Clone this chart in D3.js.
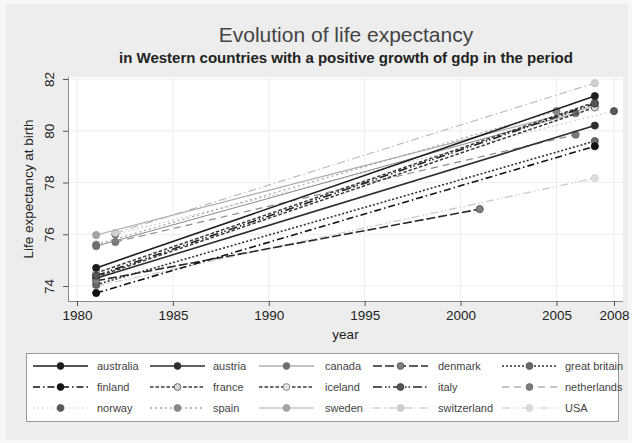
<!DOCTYPE html>
<html>
<head>
<meta charset="utf-8">
<script src="https://cdn.jsdelivr.net/npm/d3@7/dist/d3.min.js"></script>
<style>
  html, body { margin: 0; padding: 0; background: #f7f7f7; }
  svg { display: block; font-family: "Liberation Sans", Arial, sans-serif; }
</style>
</head>
<body>
<svg id="chart" width="632" height="443"></svg>
<script>
// Life expectancy at birth, first and last observed year per country
const countries = ["australia", "austria", "canada", "denmark", "great britain",
  "finland", "france", "iceland", "italy", "netherlands",
  "norway", "spain", "sweden", "switzerland", "USA"];
const years = [
  [1981, 2007], [1981, 2007], [1981, 2006], [1981, 2001], [1981, 2007],
  [1981, 2007], [1981, 2007], [1981, 2007], [1981, 2007], [1982, 2006],
  [1982, 2008], [1981, 2005], [1981, 2007], [1982, 2007], [1981, 2007]
];
const lifeExp = [
  [74.70, 81.34], [74.30, 80.20], [75.54, 80.68], [74.20, 76.97], [74.05, 79.60],
  [73.73, 79.40], [74.35, 80.90], [74.50, 81.10], [74.40, 81.05], [75.70, 79.85],
  [76.00, 80.76], [75.60, 80.76], [75.97, 80.95], [76.05, 81.84], [74.00, 78.17]
];
const xTicks = [1980, 1985, 1990, 1995, 2000, 2005, 2008];
const yTicks = [74, 76, 78, 80, 82];

// Monochrome line/marker styles for each series
const styles = [
  { stroke: "#1e1e1e", width: 1.6, dash: null,            fill: "#1e1e1e", mstroke: "#1e1e1e" },
  { stroke: "#2e2e2e", width: 1.6, dash: null,            fill: "#2e2e2e", mstroke: "#2e2e2e" },
  { stroke: "#8a8a8a", width: 1.0, dash: null,            fill: "#6e6e6e", mstroke: "#6e6e6e" },
  { stroke: "#2a2a2a", width: 1.6, dash: "9,3",           fill: "#808080", mstroke: "#505050" },
  { stroke: "#333333", width: 1.6, dash: "2,2",           fill: "#6a6a6a", mstroke: "#4a4a4a" },
  { stroke: "#111111", width: 1.6, dash: "7,3,1.5,3",     fill: "#111111", mstroke: "#111111" },
  { stroke: "#3a3a3a", width: 1.5, dash: "3.5,2",         fill: "#d8d8d8", mstroke: "#555555" },
  { stroke: "#3a3a3a", width: 1.5, dash: "3.5,2",         fill: "#e4e4e4", mstroke: "#777777" },
  { stroke: "#222222", width: 1.6, dash: "9,3,1.5,2,1.5,3", fill: "#555555", mstroke: "#333333" },
  { stroke: "#8c8c8c", width: 1.2, dash: "7,5",           fill: "#7a7a7a", mstroke: "#6a6a6a" },
  { stroke: "#c4c4c4", width: 1.2, dash: "1.5,3",         fill: "#5a5a5a", mstroke: "#4a4a4a" },
  { stroke: "#a8a8a8", width: 1.3, dash: "2,3",           fill: "#8a8a8a", mstroke: "#7a7a7a" },
  { stroke: "#ababab", width: 1.2, dash: null,            fill: "#a4a4a4", mstroke: "#999999" },
  { stroke: "#bcbcbc", width: 1.2, dash: "8,3,1.5,3",     fill: "#d0d0d0", mstroke: "#bcbcbc" },
  { stroke: "#c8c8c8", width: 1.2, dash: "8,3,1.5,2,1.5,3", fill: "#dedede", mstroke: "#cccccc" }
];

const svg = d3.select("#chart");
const W = 632, H = 443;

// graph region
svg.append("rect").attr("x", 0).attr("y", 0).attr("width", W).attr("height", H).attr("fill", "#f7f7f7");
svg.append("rect").attr("x", 6).attr("y", 4).attr("width", 622).attr("height", 436).attr("fill", "#ededed");

// plot region
const plot = { left: 68, right: 623, top: 77, bottom: 301 };
svg.append("rect")
  .attr("x", plot.left).attr("y", plot.top)
  .attr("width", plot.right - plot.left).attr("height", plot.bottom - plot.top)
  .attr("fill", "#ffffff");

const x = d3.scaleLinear().domain([1980, 2008]).range([77, 614]);
const y = d3.scaleLinear().domain([74, 82]).range([286, 79]);

// grid
const grid = svg.append("g").attr("stroke", "#eeeeee").attr("stroke-width", 1);
grid.selectAll("line.gx").data(xTicks).join("line")
  .attr("x1", d => x(d)).attr("x2", d => x(d))
  .attr("y1", plot.top).attr("y2", plot.bottom);
grid.selectAll("line.gy").data(yTicks).join("line")
  .attr("y1", d => y(d)).attr("y2", d => y(d))
  .attr("x1", plot.left).attr("x2", plot.right);

// axes
const xAxis = d3.axisBottom(x).tickValues(xTicks).tickFormat(d3.format("d")).tickSize(5).tickPadding(4);
const gx = svg.append("g").attr("transform", `translate(0,${plot.bottom})`).call(xAxis);
gx.select(".domain").attr("d", `M${plot.left},0.5H${plot.right}`).attr("stroke", "#8a8a8a");
gx.selectAll(".tick line").attr("stroke", "#555");
gx.selectAll(".tick text").attr("font-size", 13.5).attr("fill", "#222")
  .attr("font-family", "Liberation Sans, Arial, sans-serif");

const yAxis = d3.axisLeft(y).tickValues(yTicks).tickSize(5).tickPadding(0);
const gy = svg.append("g").attr("transform", `translate(${plot.left},0)`).call(yAxis);
gy.select(".domain").attr("d", `M0.5,${plot.top}V${plot.bottom}`).attr("stroke", "#8a8a8a");
gy.selectAll(".tick line").attr("stroke", "#555");
gy.selectAll(".tick text")
  .attr("font-size", 13.5).attr("fill", "#222")
  .attr("font-family", "Liberation Sans, Arial, sans-serif")
  .attr("x", null).attr("dy", null)
  .attr("text-anchor", "middle")
  .attr("transform", "translate(-14,0) rotate(-90)");

// axis titles
svg.append("text").attr("x", x(1994)).attr("y", 339)
  .attr("text-anchor", "middle").attr("font-size", 13.5).attr("fill", "#222").text("year");
svg.append("text")
  .attr("transform", `translate(33,${(plot.top + plot.bottom) / 2}) rotate(-90)`)
  .attr("text-anchor", "middle").attr("font-size", 13.5).attr("fill", "#222")
  .text("Life expectancy at birth");

// titles
svg.append("text").attr("x", 346).attr("y", 42).attr("text-anchor", "middle")
  .attr("font-size", 21).attr("fill", "#444").text("Evolution of life expectancy");
svg.append("text").attr("x", 346).attr("y", 63).attr("text-anchor", "middle")
  .attr("font-size", 15).attr("font-weight", "bold").attr("fill", "#222")
  .text("in Western countries with a positive growth of gdp in the period");

// series
const series = countries.map((c, i) => ({
  name: c, style: styles[i],
  pts: years[i].map((yr, j) => ({ yr, v: lifeExp[i][j] }))
}));
const line = d3.line().x(d => x(d.yr)).y(d => y(d.v));
// draw light series first so the dark ones sit on top
const order = d3.range(series.length).sort((a, b) => d3.descending(
  d3.hsl(series[a].style.stroke).l, d3.hsl(series[b].style.stroke).l));
const gs = svg.append("g");
order.forEach(i => {
  const s = series[i];
  const g = gs.append("g");
  g.append("path").attr("d", line(s.pts)).attr("fill", "none")
    .attr("stroke", s.style.stroke).attr("stroke-width", s.style.width)
    .attr("stroke-dasharray", s.style.dash);
  g.selectAll("circle").data(s.pts).join("circle")
    .attr("cx", d => x(d.yr)).attr("cy", d => y(d.v)).attr("r", 3.6)
    .attr("fill", s.style.fill).attr("stroke", s.style.mstroke).attr("stroke-width", 0.8);
});

// legend
const legend = svg.append("g");
legend.append("rect").attr("x", 26.5).attr("y", 353.5).attr("width", 592).attr("height", 68)
  .attr("fill", "#ffffff").attr("stroke", "#9a9a9a").attr("stroke-width", 1);
const colLine = [33, 150, 259, 373, 502];
const colText = [97, 213, 325, 438, 565];
const rowY = [366, 387, 408];
series.forEach((s, i) => {
  const c = i % 5, r = Math.floor(i / 5);
  const g = legend.append("g");
  g.append("line").attr("x1", colLine[c]).attr("x2", colLine[c] + 55)
    .attr("y1", rowY[r]).attr("y2", rowY[r])
    .attr("stroke", s.style.stroke).attr("stroke-width", s.style.width)
    .attr("stroke-dasharray", s.style.dash);
  g.append("circle").attr("cx", colLine[c] + 27.5).attr("cy", rowY[r]).attr("r", 3.4)
    .attr("fill", s.style.fill).attr("stroke", s.style.mstroke).attr("stroke-width", 0.8);
  g.append("text").attr("x", colText[c]).attr("y", rowY[r] + 4)
    .attr("font-size", 11).attr("fill", "#444").text(s.name);
});
</script>
</body>
</html>
